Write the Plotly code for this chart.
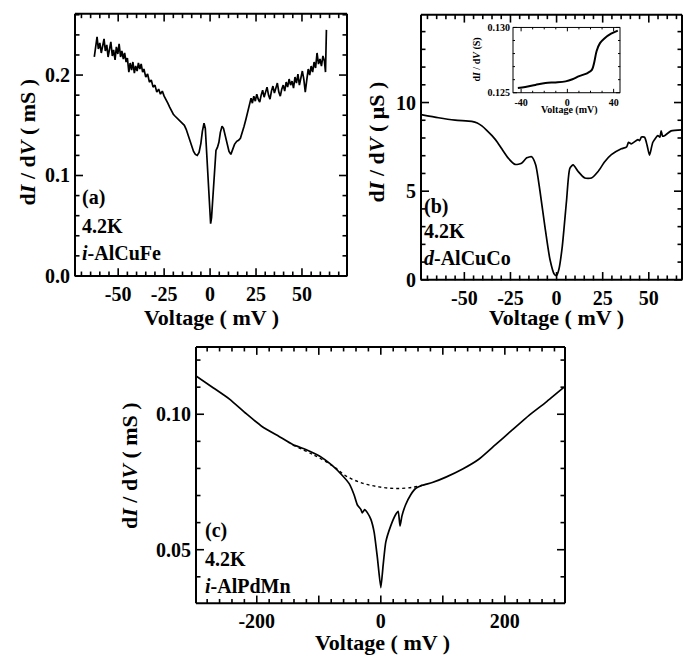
import math
import plotly.graph_objects as go

# ---------------- data ----------------
# panel (a): i-AlCuFe, dI/dV (mS) vs voltage (mV)
a_v = [-63, -62.3, -61.5, -60.8, -60, -59.2, -58.5, -57.7, -57, -56.2, -55.5, -54.7, -54, -53.2, -52.5,
       -51.7, -51, -50.2, -49.5, -48.7, -48, -47.2, -46.5, -45.7, -45, -44.2, -43.5, -42.7, -42, -41.2,
       -40.5, -39.7, -39, -38.2, -37.5, -36.7, -36, -35, -34, -33, -32, -31, -30, -29, -28, -27, -26, -25,
       -24, -23, -22, -21, -20, -19, -18, -17, -16, -15, -14, -13, -12, -11, -10, -9, -8, -7, -6, -5,
       -4.2, -3.3, -2.6, -2, -1.4, -0.8, -0.2, 0.3, 0.8, 1.3, 1.9, 2.5, 3.2, 4, 4.8, 5.6, 6.5, 7.3, 8.2,
       9.2, 10.3, 11.3, 12.3, 13.3, 14.5, 15.5, 16.5, 17.5, 18.5, 19.5, 20.5, 21.5, 22.3, 23, 23.8, 24.6,
       25.4, 26.2, 27, 27.8, 28.6, 29.4, 30.2, 31, 31.8, 32.6, 33.4, 34.2, 35, 35.8, 36.6, 37.4, 38.2, 39,
       39.8, 40.6, 41.4, 42.2, 43, 43.8, 44.6, 45.4, 46.2, 47, 47.8, 48.6, 49.4, 50.2, 51, 51.8, 52.6,
       53.4, 54.2, 55, 55.8, 56.6, 57.4, 58.2, 59, 59.8, 60.6, 61.4, 62.2, 62.8, 63.3]
a_g = [0.218, 0.230, 0.238, 0.226, 0.232, 0.222, 0.229, 0.236, 0.224, 0.230, 0.218, 0.226, 0.233, 0.219, 0.225,
       0.215, 0.228, 0.221, 0.231, 0.218, 0.224, 0.216, 0.222, 0.213, 0.217, 0.203, 0.212, 0.205, 0.213, 0.202,
       0.209, 0.204, 0.212, 0.206, 0.211, 0.203, 0.206, 0.198, 0.201, 0.193, 0.195, 0.188, 0.190, 0.183, 0.186,
       0.181, 0.184, 0.179, 0.176, 0.172, 0.168, 0.164, 0.161, 0.159, 0.157, 0.156, 0.154, 0.152, 0.150, 0.146,
       0.140, 0.134, 0.128, 0.124, 0.121, 0.120, 0.123, 0.132, 0.144, 0.152, 0.147, 0.128, 0.105, 0.082, 0.062,
       0.052, 0.058, 0.072, 0.092, 0.112, 0.125, 0.128, 0.133, 0.143, 0.149, 0.147, 0.140, 0.130, 0.124, 0.121,
       0.126, 0.131, 0.134, 0.135, 0.137, 0.142, 0.149, 0.156, 0.164, 0.171, 0.177, 0.172, 0.179, 0.174, 0.181,
       0.176, 0.173, 0.180, 0.185, 0.178, 0.183, 0.188, 0.180, 0.176, 0.184, 0.189, 0.182, 0.186, 0.192, 0.183,
       0.179, 0.186, 0.190, 0.184, 0.193, 0.188, 0.196, 0.190, 0.194, 0.187, 0.198, 0.192, 0.201, 0.190, 0.199,
       0.204, 0.196, 0.183, 0.195, 0.206, 0.200, 0.209, 0.203, 0.213, 0.207, 0.222, 0.211, 0.216, 0.209, 0.219,
       0.214, 0.203, 0.245]

# panel (b): d-AlCuCo, dI/dV (uS) vs voltage (mV)
b_v = [-73.5, -64, -55, -46, -43, -40.5, -38, -35, -32, -29.7, -26, -22.5, -19, -16.2, -13.5, -11.3, -9, -6.3,
       -3.6, -1.3, 0, 1.3, 3.1, 5.4, 7.2, 9, 11.7, 15.3, 18.9, 22.5, 26.1, 29.7, 35.1, 38, 39, 40.5, 44.1,
       45, 46, 47.7, 49.1, 50.4, 52.2, 54.9, 56, 56.7, 57.5, 58.5, 62.1, 68]
b_g = [9.32, 9.14, 9.01, 8.94, 8.85, 8.68, 8.45, 8.13, 7.75, 7.39, 6.84, 6.51, 6.57, 6.88, 6.94, 6.48, 5.01,
       2.99, 1.16, 0.33, 0.24, 0.61, 1.89, 4.46, 6.29, 6.48, 6.11, 5.74, 5.74, 6.11, 6.66, 7.06, 7.39, 7.50,
       7.75, 7.67, 7.91, 7.85, 8.05, 8.04, 7.58, 7.03, 7.76, 8.13, 8.05, 8.40, 8.10, 8.13, 8.40, 8.46]

# inset of (b): dI/dV (S) vs voltage (mV)
ins_v = [-42.8, -36.4, -27.6, -18.9, -10.2, -1.5, 4.4, 10.2, 17.5, 21.2, 23.3, 25.3, 28.2, 32, 37.8, 43.6]
ins_g = [0.12536, 0.12543, 0.1256, 0.12575, 0.12579, 0.12587, 0.12603, 0.12627, 0.12651, 0.12675,
         0.12736, 0.1282, 0.1288, 0.12916, 0.12952, 0.12976]

# panel (c): i-AlPdMn, dI/dV (mS) vs voltage (mV)
c_v = [-298, -271, -244, -217, -191, -164, -142, -121, -99, -78, -62, -51, -43, -38, -32, -30, -26, -21.5,
       -16, -10.7, -5.4, 0, 3.8, 8, 16, 24, 28, 31, 34, 40, 48, 56, 67, 83, 105, 132, 158, 185, 212, 239,
       266, 295]
c_g = [0.1141, 0.1099, 0.1056, 0.1002, 0.0954, 0.0918, 0.0888, 0.0870, 0.0846, 0.0810, 0.0774, 0.0744,
       0.0702, 0.0666, 0.0648, 0.0636, 0.0648, 0.0636, 0.0612, 0.0564, 0.0468, 0.0360, 0.0444, 0.0528,
       0.0588, 0.0630, 0.0642, 0.0588, 0.0624, 0.0666, 0.0702, 0.0726, 0.0738, 0.0748, 0.0768, 0.0798,
       0.0834, 0.0888, 0.0942, 0.0996, 0.1044, 0.1099]
# dotted background of (c)
cbg_v = [-142, -110, -78, -56, -30, -3, 24, 51, 67]
cbg_g = [0.0886, 0.0852, 0.0810, 0.0772, 0.0746, 0.0732, 0.0726, 0.0730, 0.0738]

# tick labels
a_xticks = [-50, -25, 0, 25, 50]
a_xlabels = ["-50", "-25", "0", "25", "50"]
a_yticks = [0, 0.1, 0.2]
a_ylabels = ["0.0", "0.1", "0.2"]
b_xticks = [-50, -25, 0, 25, 50]
b_xlabels = ["-50", "-25", "0", "25", "50"]
b_yticks = [0, 5, 10]
b_ylabels = ["0", "5", "10"]
c_xticks = [-200, 0, 200]
c_xlabels = ["-200", "0", "200"]
c_yticks = [0.05, 0.10]
c_ylabels = ["0.05", "0.10"]
i_xticks = [-40, 0, 40]
i_xlabels = ["-40", "0", "40"]
i_yticks = [0.125, 0.130]
i_ylabels = ["0.125", "0.130"]

# ---------------- figure ----------------
W, H = 683, 666
FONT = "Liberation Serif, Times New Roman, Times, serif"


def px(x):
    return x / W


def py(y):
    return 1 - y / H


fig = go.Figure()
fig.add_trace(go.Scatter(x=a_v, y=a_g, mode="lines", line=dict(color="black", width=1.7),
                         xaxis="x", yaxis="y"))
fig.add_trace(go.Scatter(x=b_v, y=b_g, mode="lines",
                         line=dict(color="black", width=1.7, shape="spline", smoothing=0.6),
                         xaxis="x2", yaxis="y2"))
fig.add_trace(go.Scatter(x=c_v, y=c_g, mode="lines",
                         line=dict(color="black", width=1.7, shape="spline", smoothing=0.5),
                         xaxis="x3", yaxis="y3"))
fig.add_trace(go.Scatter(x=cbg_v, y=cbg_g, mode="lines",
                         line=dict(color="black", width=1.4, dash="dot", shape="spline"),
                         xaxis="x3", yaxis="y3"))
fig.add_trace(go.Scatter(x=ins_v, y=ins_g, mode="lines", line=dict(color="black", width=2, shape="spline"),
                         xaxis="x4", yaxis="y4"))

tickfont = dict(family=FONT, size=20, color="black", weight="bold")
smallfont = dict(family=FONT, size=10, color="black", weight="bold")


def axis(domain, rng, anchor, tickvals, ticktext, font=tickfont, standoff=4):
    return dict(domain=domain, range=rng, anchor=anchor, showline=False, ticks="", showgrid=False,
                zeroline=False, tickmode="array", tickvals=tickvals, ticktext=ticktext, tickfont=font,
                ticklabelstandoff=standoff, fixedrange=True)


# domains from pixel coordinates (x0, x1, ytop, ybottom)
P = {
    "a": (75, 347, 8, 277),
    "b": (421, 682, 9, 281),
    "c": (196, 565, 350, 613),
    "i": (513, 620, 22, 89),
}
R = {
    "a": ([-73.5, 74.5], [0, 0.261]),
    "b": ([-73.5, 68], [0, 14.95]),
    "c": ([-298, 297], [0.0302, 0.1248]),
    "i": ([-47, 45.5], [0.125, 0.130]),
}


def dom(k):
    x0, x1, yt, yb = P[k]
    return [px(x0), px(x1)], [py(yb), py(yt)]


fig.update_layout(
    width=W, height=H, margin=dict(l=0, r=0, t=0, b=0),
    paper_bgcolor="white", plot_bgcolor="white", showlegend=False,
    xaxis=axis(dom("a")[0], R["a"][0], "y", a_xticks, a_xlabels),
    yaxis=axis(dom("a")[1], R["a"][1], "x", a_yticks, a_ylabels),
    xaxis2=axis(dom("b")[0], R["b"][0], "y2", b_xticks, b_xlabels),
    yaxis2=axis(dom("b")[1], R["b"][1], "x2", b_yticks, b_ylabels),
    xaxis3=axis(dom("c")[0], R["c"][0], "y3", c_xticks, c_xlabels),
    yaxis3=axis(dom("c")[1], R["c"][1], "x3", c_yticks, c_ylabels),
    xaxis4=axis(dom("i")[0], R["i"][0], "y4", i_xticks, i_xlabels, font=smallfont, standoff=2),
    yaxis4=axis(dom("i")[1], R["i"][1], "x4", i_yticks, i_ylabels, font=smallfont, standoff=2),
)


# ---- frames and tick marks as line shapes in axis-domain coordinates ----
def seq(lo, hi, step):
    k0 = math.ceil(lo / step - 1e-9)
    k1 = math.floor(hi / step + 1e-9)
    return [round(k * step, 9) for k in range(k0, k1 + 1)]


shapes = []


def frame(k, xa, ya, xmaj, xmin, ymaj, ymin, lw=2.0, tw=1.6, tlen=8, mlen=4.5):
    x0, x1, yt, yb = P[k]
    wpx, hpx = x1 - x0, yb - yt
    xr, yr = R[k]
    xd, yd = xa + " domain", ya + " domain"

    def seg(a0, b0, a1, b1, w):
        shapes.append(dict(type="line", xref=xd, yref=yd, x0=a0, y0=b0, x1=a1, y1=b1,
                           layer="above", line=dict(color="black", width=w)))

    majx = seq(xr[0], xr[1], xmaj)
    for v in seq(xr[0], xr[1], xmin):
        f = (v - xr[0]) / (xr[1] - xr[0])
        ln = (tlen if any(abs(v - m) < 1e-9 for m in majx) else mlen) / hpx
        seg(f, -0.002, f, ln, tw)
        seg(f, 1.002, f, 1 - ln, tw)
    majy = seq(yr[0], yr[1], ymaj)
    for v in seq(yr[0], yr[1], ymin):
        f = (v - yr[0]) / (yr[1] - yr[0])
        ln = (tlen if any(abs(v - m) < 1e-9 for m in majy) else mlen) / wpx
        seg(-0.002, f, ln, f, tw)
        seg(1.002, f, 1 - ln, f, tw)
    for (a0, b0, a1, b1) in [(0, 0, 1, 0), (0, 1, 1, 1), (0, 0, 0, 1), (1, 0, 1, 1)]:
        seg(a0, b0, a1, b1, lw)


frame("a", "x", "y", 25, 5, 0.1, 0.02)
frame("b", "x2", "y2", 25, 5, 5, 1)
frame("c", "x3", "y3", 100, 20, 0.05, 0.01)
frame("i", "x4", "y4", 40, 10, 0.005, 0.001, lw=1.0, tw=1.0, tlen=4, mlen=2)

ann = []
tfont = dict(family=FONT, size=22, color="black", weight="bold")
lfont = dict(family=FONT, size=20, color="black", weight="bold")


def text(x, y, s, font, xanchor="center", angle=0):
    ann.append(dict(x=px(x), y=py(y), xref="paper", yref="paper", text=s, showarrow=False,
                    xanchor=xanchor, yanchor="middle", font=font, textangle=angle))


# axis titles
text(211, 320, "Voltage ( mV )", tfont)
text(556, 320, "Voltage ( mV )", tfont)
text(382, 653, "Voltage ( mV )", tfont)
text(27, 140, "d<i>I</i> / d<i>V</i> ( mS )", tfont, angle=-90)
text(376, 140, "d<i>I</i> / d<i>V</i> ( μS )", tfont, angle=-90)
text(130, 472, "d<i>I</i> / d<i>V</i> ( mS )", tfont, angle=-90)
# inset titles
text(569, 107, "Voltage (mV)", smallfont)
text(477, 55, "d<i>I</i> / d<i>V</i> (S)", smallfont, angle=-90)
# panel labels
for x0, ys, lines in [(80, (197, 226, 253), ["(a)", "4.2K", "<i>i</i>-AlCuFe"]),
                      (422, (206, 231, 259), ["(b)", "4.2K", "<i>d</i>-AlCuCo"]),
                      (203, (538, 567, 595), ["(c)", "4.2K", "<i>i</i>-AlPdMn"])]:
    for yy, s in zip(ys, lines):
        text(x0, yy, s, lfont, xanchor="left")

fig.update_layout(annotations=ann, shapes=shapes)
fig.write_html("out.html", config={"displayModeBar": False, "staticPlot": True},
               post_script="document.body.style.margin='0';")
